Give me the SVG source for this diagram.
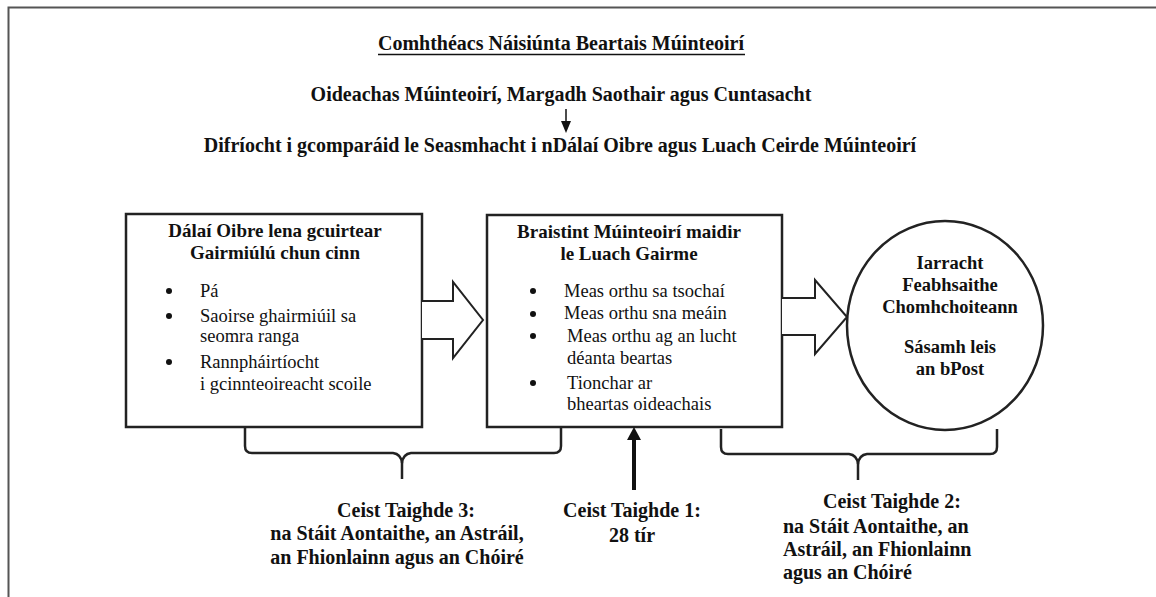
<svg xmlns="http://www.w3.org/2000/svg" width="1156" height="597" viewBox="0 0 1156 597">
  <style>
    text { font-family: "Liberation Serif", "Times New Roman", serif; fill: #111; }
    .h { font-size: 19px; font-weight: bold; }
    .big { font-size: 20px; font-weight: bold; }
    .e { font-size: 18.5px; font-weight: bold; }
    .b { font-size: 18.5px; }
    .c { text-anchor: middle; }
    .box { fill: #fff; stroke: #222; stroke-width: 2.5; }
    .arr { fill: #fff; stroke: #222; stroke-width: 2; stroke-linejoin: miter; }
    .brace { fill: none; stroke: #222; stroke-width: 2.5; }
    .dot { fill: #111; }
  </style>

  <rect width="1156" height="597" fill="#fff"/>
  <!-- outer frame: left and top edges only -->
  <path d="M8.5,597 V7.5 H1156" fill="none" stroke="#555" stroke-width="2"/>

  <g id="header">
    <text class="big c" x="561" y="50">Comhthéacs Náisiúnta Beartais Múinteoirí</text>
    <line x1="378" y1="54.5" x2="745" y2="54.5" stroke="#111" stroke-width="1.5"/>
    <text class="big c" x="561" y="101">Oideachas Múinteoirí, Margadh Saothair agus Cuntasacht</text>
    <text class="big c" x="560" y="152">Difríocht i gcomparáid le Seasmhacht i nDálaí Oibre agus Luach Ceirde Múinteoirí</text>
  </g>

  <g id="conditions">
    <rect class="box" x="126" y="214" width="296" height="213"/>
    <text class="h c" x="275" y="237">Dálaí Oibre lena gcuirtear</text>
    <text class="h c" x="275" y="259">Gairmiúlú chun cinn</text>
    <circle class="dot" cx="169" cy="291" r="3"/>
    <text class="b" x="200" y="297">Pá</text>
    <circle class="dot" cx="169" cy="316" r="3"/>
    <text class="b" x="200" y="322">Saoirse ghairmiúil sa</text>
    <text class="b" x="200" y="342">seomra ranga</text>
    <circle class="dot" cx="169" cy="362" r="3"/>
    <text class="b" x="200" y="368">Rannpháirtíocht</text>
    <text class="b" x="200" y="390">i gcinnteoireacht scoile</text>
  </g>

  <g id="perceptions">
    <rect class="box" x="487" y="215" width="295" height="212"/>
    <text class="h c" x="629" y="238">Braistint Múinteoirí maidir</text>
    <text class="h c" x="629" y="260">le Luach Gairme</text>
    <circle class="dot" cx="533" cy="291" r="3"/>
    <text class="b" x="564" y="297">Meas orthu sa tsochaí</text>
    <circle class="dot" cx="533" cy="314" r="3"/>
    <text class="b" x="564" y="319">Meas orthu sna meáin</text>
    <circle class="dot" cx="533" cy="336" r="3"/>
    <text class="b" x="567" y="342">Meas orthu ag an lucht</text>
    <text class="b" x="567" y="364">déanta beartas</text>
    <circle class="dot" cx="533" cy="383" r="3"/>
    <text class="b" x="567" y="389">Tionchar ar</text>
    <text class="b" x="567" y="410">bheartas oideachais</text>
  </g>

  <g id="outcome">
    <ellipse class="box" cx="945" cy="325.5" rx="98" ry="104.5"/>
    <text class="e c" x="950" y="269">Iarracht</text>
    <text class="e c" x="950" y="291">Feabhsaithe</text>
    <text class="e c" x="950" y="313">Chomhchoiteann</text>
    <text class="e c" x="950" y="353">Sásamh leis</text>
    <text class="e c" x="950" y="375">an bPost</text>
  </g>

  <g id="connectors">
    <!-- block arrows between the stages -->
    <path class="arr" d="M422,301 H453 V282 L483,320 L453,358 V339 H422"/>
    <path class="arr" d="M782,298 H815 V280 L847,317 L815,354 V335 H782"/>
    <!-- small arrow under the first heading line -->
    <line x1="566" y1="109" x2="566" y2="123" stroke="#111" stroke-width="1.5"/>
    <path d="M561,121 L571,121 L566,133 Z" fill="#111"/>
    <!-- upward arrow into the perceptions box -->
    <line x1="634" y1="490" x2="634" y2="438" stroke="#111" stroke-width="4"/>
    <path d="M627,440 L641,440 L634,427 Z" fill="#111"/>
    <!-- braces spanning the stages -->
    <path class="brace" d="M245,428 V446 Q245,453 252,453 H393 Q401,454 402,463 V479"/>
    <path class="brace" d="M561,428 V446 Q561,453 554,453 H411 Q403,454 402,463"/>
    <path class="brace" d="M721,429 V447 Q721,454 728,454 H849 Q857,455 858,464 V480"/>
    <path class="brace" d="M997,429 V447 Q997,454 990,454 H867 Q859,455 858,464"/>
  </g>

  <g id="question3">
    <text class="big c" x="406" y="517">Ceist Taighde 3:</text>
    <text class="big c" x="397" y="540">na Stáit Aontaithe, an Astráil,</text>
    <text class="big c" x="397" y="564">an Fhionlainn agus an Chóiré</text>
  </g>

  <g id="question1">
    <text class="big c" x="632" y="517">Ceist Taighde 1:</text>
    <text class="big c" x="632" y="542">28 tír</text>
  </g>

  <g id="question2">
    <text class="big" x="823" y="508">Ceist Taighde 2:</text>
    <text class="big" x="783" y="533">na Stáit Aontaithe, an</text>
    <text class="big" x="783" y="556">Astráil, an Fhionlainn</text>
    <text class="big" x="783" y="579">agus an Chóiré</text>
  </g>
</svg>
